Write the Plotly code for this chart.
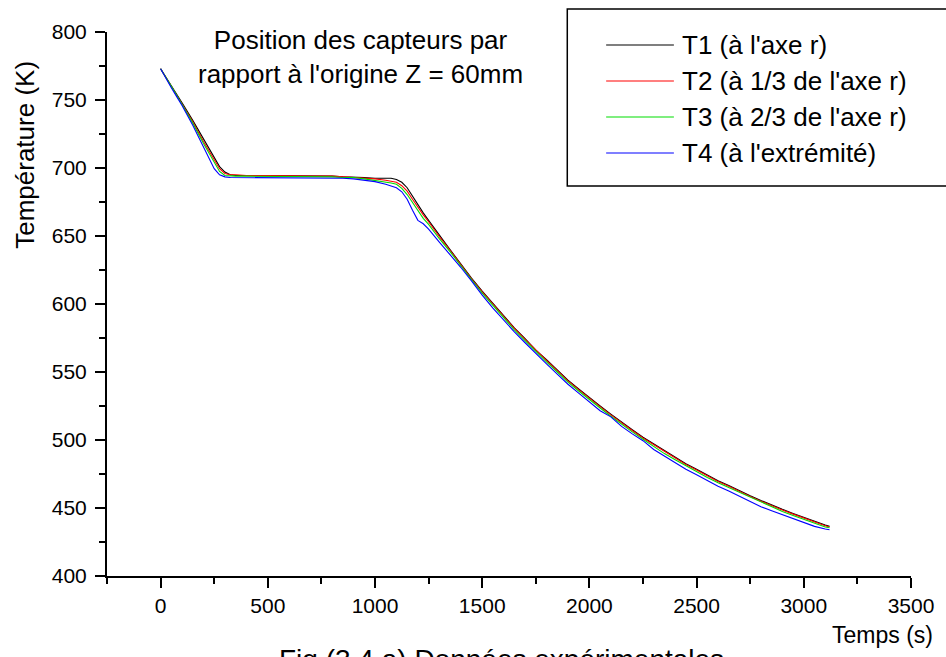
import plotly.graph_objects as go

# Time samples (s) shared by the four thermocouples
time_s = [0, 25, 50, 75, 100, 150, 200, 225, 250, 275,
          300, 325, 350, 400, 500, 600, 700, 800, 850, 900,
          950, 1000, 1050, 1075, 1100, 1125, 1150, 1175, 1200, 1225,
          1250, 1300, 1350, 1400, 1450,
          1500, 1550, 1600, 1650, 1700, 1750, 1800, 1850, 1900, 1950,
          2000, 2050, 2100, 2150, 2200, 2250, 2300, 2350, 2400, 2450,
          2500, 2550, 2600, 2650, 2700, 2750, 2800, 2850, 2900, 2950,
          3000, 3050, 3100, 3120]

# Temperatures (K)
t1_axe = [773, 767, 761, 755, 748, 735, 721, 714, 707, 701,
          697, 695, 694.5, 694.5, 694, 694, 694, 694, 693.5, 693.5,
          693, 692.5, 692.5, 692.5, 691.5, 689.5, 685.5, 679, 673, 667,
          661.5, 650.5, 640, 629.5, 619,
          609.5, 600.5, 591, 582.5, 574.5, 566, 559, 551.5, 544, 537.5,
          531, 525, 519, 513, 507.5, 502, 497, 492, 487.5, 482.5,
          478.5, 474, 470, 466.5, 462.5, 459, 455.5, 452, 449, 446,
          443, 440, 437.5, 436.5]

t2_tiers = [773, 766.5, 760.5, 754, 747.5, 734, 719.5, 712.5, 705.5, 699.5,
            696, 695, 695, 694.5, 694.5, 694, 694, 694, 693.5, 693.5,
            693, 692, 691, 690.5, 689.5, 687, 683, 677, 671, 665.5,
            660.5, 649.5, 639.5, 629, 618.5,
            609, 600, 590.5, 582, 574, 566, 558.5, 551, 543.5, 537,
            530.5, 524.5, 518.5, 512.5, 507, 501.5, 496.5, 491.5, 487, 482,
            478, 473.5, 469.5, 466, 462, 458.5, 455, 451.5, 448.5, 445.5,
            442.5, 439.5, 437, 436]

t3_deux_tiers = [773, 766, 760, 753.5, 747, 733, 718, 711, 703.5, 697.5,
                 694.5, 694, 694, 694, 694, 693.5, 693.5, 693.5, 693, 693,
                 692, 691, 689.5, 689, 688, 685, 680.5, 674.5, 668.5, 663,
                 658.5, 648, 638.5, 628, 618,
                 608, 599, 589.5, 581, 573, 565, 557.5, 550, 542.5, 536,
                 529.5, 523.5, 517.5, 511.5, 506, 500.5, 495, 490, 485.5, 481,
                 477, 472.5, 468.5, 465, 461, 457.5, 454, 450.5, 447.5, 444.5,
                 441.5, 438.5, 436, 435.5]

t4_extremite = [773, 765.5, 759, 752.5, 746, 731.5, 716, 708, 699.5, 695,
                693.5, 693, 693, 693, 693, 693, 692.5, 692.5, 692.5, 692,
                691, 690, 688, 687, 685.5, 682.5, 677, 669, 661.5, 659,
                655, 645.5, 636.5, 627, 617,
                606.5, 597, 588, 579.5, 571.5, 563.5, 556, 548.5, 541, 534.5,
                528, 521.5, 517, 510, 504.5, 499.5, 493, 488, 483, 478.5,
                474.5, 470, 466, 462.5, 458.5, 455, 451, 448, 445, 442,
                439.5, 436.5, 434.5, 434]

series_names = ["T1 (à l'axe r)", "T2 (à 1/3 de l'axe r)",
                "T3 (à 2/3 de l'axe r)", "T4 (à l'extrémité)"]
series_values = [t1_axe, t2_tiers, t3_deux_tiers, t4_extremite]
series_colors = ["#000000", "#ff0000", "#00dd00", "#0000ff"]

x_ticks = [0, 500, 1000, 1500, 2000, 2500, 3000, 3500]
y_ticks = [400, 450, 500, 550, 600, 650, 700, 750, 800]

FONT = "Arial, Liberation Sans, sans-serif"

fig = go.Figure()
for name, vals, col in zip(series_names, series_values, series_colors):
    fig.add_trace(go.Scatter(x=time_s, y=vals, mode="lines", name=name,
                             line=dict(color=col, width=1.1),
                             showlegend=False))

axis_common = dict(showgrid=False, zeroline=False, showline=True,
                   linecolor="black", linewidth=2, ticks="outside",
                   ticklen=10, tickwidth=2, tickcolor="black",
                   tickfont=dict(family=FONT, size=21, color="black"))

fig.update_xaxes(range=[-250, 3500], tickvals=x_ticks,
                 minor=dict(ticks="outside", tick0=0, dtick=250, ticklen=6,
                            tickwidth=2, tickcolor="black", showgrid=False),
                 **axis_common)
fig.update_yaxes(range=[400, 800], tickvals=y_ticks, ticklabelstandoff=4,
                 minor=dict(ticks="outside", tick0=0, dtick=25, ticklen=6,
                            tickwidth=2, tickcolor="black", showgrid=False),
                 **axis_common)

annotations = [
    dict(text="Température (K)", textangle=-90, xref="paper", yref="paper",
         x=-0.1015, y=0.775, xanchor="center", yanchor="middle",
         showarrow=False, font=dict(family=FONT, size=26, color="black")),
    dict(text="Position des capteurs par<br>rapport à l'origine Z = 60mm",
         xref="paper", yref="paper", x=0.3158, y=0.954,
         xanchor="center", yanchor="middle", showarrow=False,
         font=dict(family=FONT, size=26, color="black")),
    dict(text="Temps (s)", xref="paper", yref="paper", x=1.030, y=-0.108,
         xanchor="right", yanchor="middle", showarrow=False,
         font=dict(family=FONT, size=23, color="black")),
    dict(text="Fig (3.4 a) Données expérimentales", xref="paper",
         yref="paper", x=0.491, y=-0.122, xanchor="center", yanchor="top",
         showarrow=False, font=dict(family=FONT, size=28, color="black")),
]

# Legend frame (open on the right, where it runs past the page edge)
plot_w = 946 - 107 - 32
plot_h = 657 - 32 - 81


def px_x(px):
    return (px - 107) / plot_w


def px_y(py):
    return (576 - py) / plot_h


fx0, fx1 = px_x(569), px_x(960)
fy_top, fy_bot = px_y(9), px_y(186)
shapes = [dict(type="path", xref="paper", yref="paper",
               path=(f"M {fx1},{fy_top} L {fx0},{fy_top} "
                     f"L {fx0},{fy_bot} L {fx1},{fy_bot}"),
               line=dict(color="black", width=1.5))]
row_y = [45, 81, 117, 153]
for name, col, ry in zip(series_names, series_colors, row_y):
    shapes.append(dict(type="line", xref="paper", yref="paper",
                       x0=px_x(608), x1=px_x(676), y0=px_y(ry), y1=px_y(ry),
                       line=dict(color=col, width=1.2)))
    annotations.append(dict(text=name, xref="paper", yref="paper",
                            x=px_x(682), y=px_y(ry), xanchor="left",
                            yanchor="middle", showarrow=False,
                            font=dict(family=FONT, size=26, color="black")))

fig.update_layout(width=946, height=657,
                  margin=dict(l=107, r=32, t=32, b=81),
                  paper_bgcolor="white", plot_bgcolor="white",
                  font=dict(family=FONT, color="black"),
                  annotations=annotations, shapes=shapes, showlegend=False)

fig.write_html("out.html")
